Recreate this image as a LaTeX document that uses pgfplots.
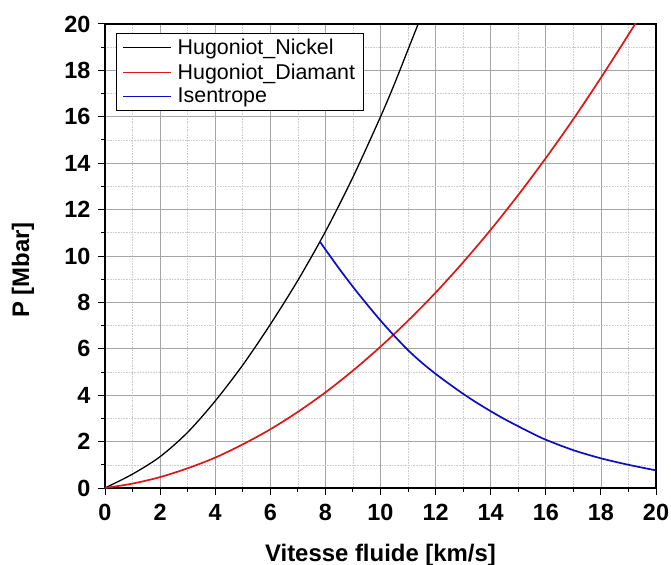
\documentclass[border=0pt]{standalone}
\usepackage{fontspec}
\setmainfont{Liberation Sans}
\usepackage{pgfplots}
\pgfplotsset{compat=1.18}
\usetikzlibrary{calc}

\definecolor{hugred}{RGB}{222,22,22}
\definecolor{isblue}{RGB}{12,12,200}
\definecolor{majgrid}{RGB}{165,165,165}
\definecolor{mingrid}{RGB}{205,205,205}

\begin{document}
\begin{tikzpicture}
\begin{axis}[
    width=551bp, height=464bp,
    scale only axis,
    xmin=0, xmax=20, ymin=0, ymax=20,
    xtick={0,2,...,20}, ytick={0,2,...,20},
    minor tick num=1,
    tick align=outside,
    tick pos=left,
    major tick length=7bp,
    minor tick length=4bp,
    every tick/.style={black, line width=1pt},
    axis line style={line width=1.3pt},
    grid=both,
    major grid style={majgrid, line width=0.7pt},
    minor grid style={mingrid, line width=0.6pt, densely dotted},
    /pgf/number format/assume math mode=true,
    ticklabel style={font=\bfseries\fontsize{23.5}{24}\selectfont},
    xticklabel style={yshift=-6bp},
    yticklabel style={xshift=-4bp},
    xlabel={Vitesse fluide [km/s]},
    ylabel={P [Mbar]},
    label style={font=\bfseries\fontsize{24}{26}\selectfont},
    xlabel style={at={(axis description cs:0.5,0)}, anchor=base, yshift=-73bp},
    ylabel style={at={(axis description cs:-0.149,0.47)}, anchor=center},
    legend style={at={(0.02,0.981)}, anchor=north west, draw=black, fill=white,
        line width=0.8pt, font=\fontsize{21.5}{26.7}\selectfont,
        inner xsep=6bp, inner ysep=4bp, row sep=3.5bp,
        /tikz/every odd column/.append style={column sep=4bp}},
    legend cell align=left,
    legend image code/.code={\draw[#1, line width=1.3pt] (0bp,0bp) -- (48bp,0bp);},
]
\addplot[black, line width=1.3pt, smooth] coordinates {
(0,0) (1,0.6) (2,1.35) (3,2.4) (4,3.75) (5,5.3) (6,7.05) (7,8.95)
(8,11.05) (9,13.4) (10,16.0) (10.5,17.4) (11,18.9) (11.4,20.1)
};
\addlegendentry{Hugoniot\_Nickel}
\addplot[hugred, line width=1.7pt, smooth] coordinates {
(0,0) (1,0.19) (2,0.47) (3,0.85) (4,1.31) (5,1.88) (6,2.53) (7,3.28)
(8,4.12) (9,5.06) (10,6.09) (11,7.21) (12,8.42) (13,9.73) (14,11.13)
(15,12.63) (16,14.22) (17,15.9) (18,17.68) (19,19.54) (19.5,20.5)
};
\addlegendentry{Hugoniot\_Diamant}
\addplot[isblue, line width=1.7pt, smooth] coordinates {
(7.8,10.62) (8,10.28) (8.5,9.455) (9,8.67) (9.5,7.93) (10,7.22) (10.5,6.56)
(11,5.94) (11.5,5.40) (12,4.92) (12.5,4.48) (13,4.06) (13.5,3.67) (14,3.31)
(14.5,2.97) (15,2.66) (15.5,2.36) (16,2.08) (17,1.63) (18,1.28) (19,1.0) (20,0.76)
};
\addlegendentry{Isentrope}
\end{axis}
\pgfresetboundingbox
\path[use as bounding box] ($(current axis.south west)+(-105bp,-77bp)$)
    rectangle ($(current axis.north east)+(15bp,24bp)$);
\end{tikzpicture}
\end{document}
